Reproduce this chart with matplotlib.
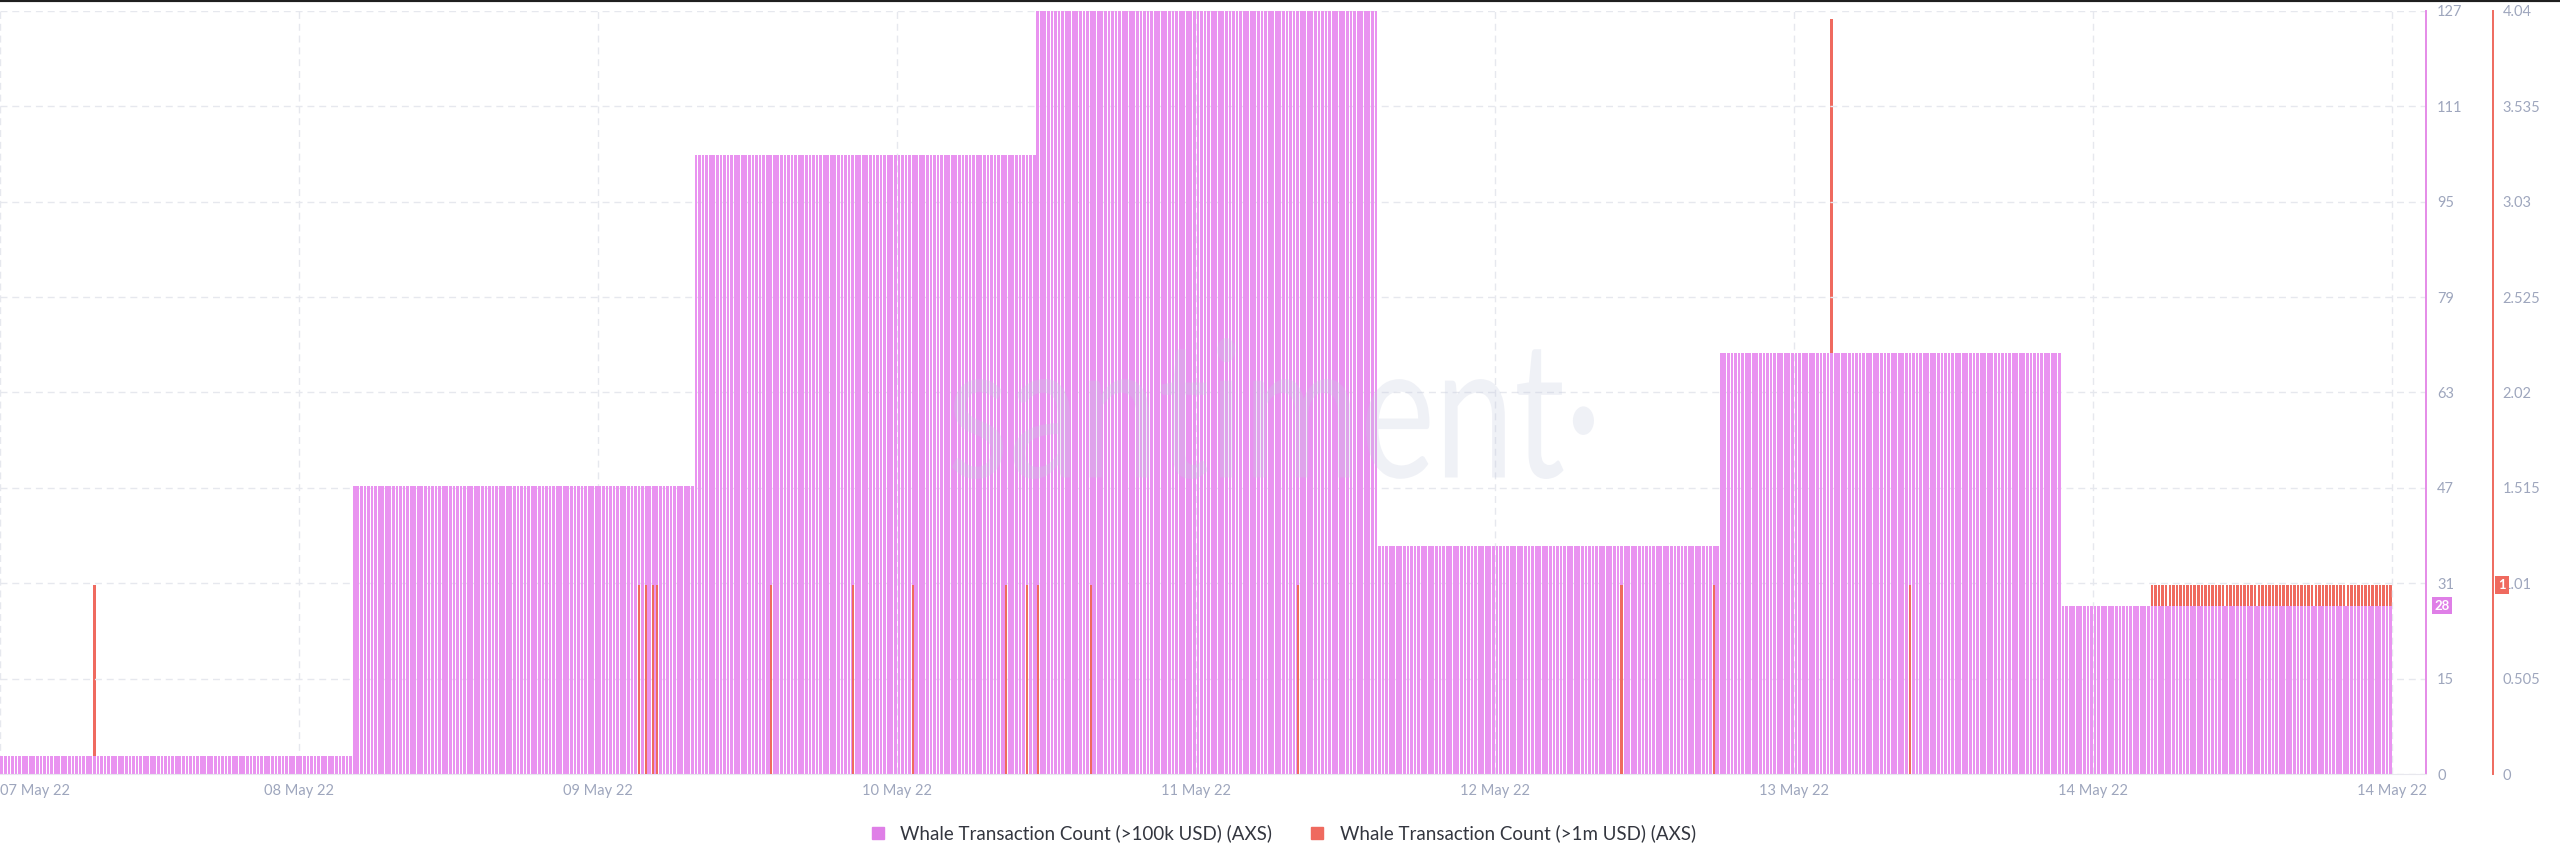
import numpy as np
import matplotlib.pyplot as plt
from matplotlib.lines import Line2D
from matplotlib.textpath import TextPath
from matplotlib.patches import PathPatch
from matplotlib.font_manager import FontProperties
from matplotlib import transforms

plt.rcParams['font.family'] = ['Lato', 'DejaVu Sans']

# 15 minute slots from 07 May 22 to the end of 14 May 22
n_slots = 672

# whale tx count >100k USD, one value per (shifted) day
day_edges = [0, 99, 195, 291, 387, 483, 579, 672]
day_counts = [3, 48, 103, 127, 38, 70, 28]

# whale tx count >1m USD, only the non-zero slots
spike_slots = [26, 179, 181, 183, 184, 216, 239, 256, 282, 288, 291, 306, 364, 455, 481, 514, 536]
spike_counts = [1, 1, 1, 1, 1, 1, 1, 1, 1, 1, 1, 1, 1, 1, 1, 4, 1]
block_start, block_end = 604, 672
block_count = 1
# spikes that are hidden behind the pink bars in the original
hidden_spikes = [26, 514]

tick_labels = ['07 May 22', '08 May 22', '09 May 22', '10 May 22', '11 May 22',
               '12 May 22', '13 May 22', '14 May 22', '14 May 22']
pink_ticks = ['0', '15', '31', '47', '63', '79', '95', '111', '127']
red_ticks = ['0', '0.505', '1.01', '1.515', '2.02', '2.525', '3.03', '3.535', '4.04']

PINK = '#e993f0'
PINK_DARK = '#df7fe7'
RED = '#ef6a5f'
GREY = '#9ea6bd'
GRID = '#e6e8ee'

slots = np.arange(n_slots)
pink = np.zeros(n_slots)
for a, b, v in zip(day_edges[:-1], day_edges[1:], day_counts):
    pink[a:b] = v

red_back = np.zeros(n_slots)
red_front = np.zeros(n_slots)
red_back[block_start:block_end] = block_count
for s, v in zip(spike_slots, spike_counts):
    if s in hidden_spikes:
        red_back[s] = v
    else:
        red_front[s] = v

fig = plt.figure(figsize=(25.6, 8.63), dpi=100)
ax = fig.add_axes([0.0, 0.1031, 0.9477, 0.8842])
ax_back = ax.twinx()
ax_front = ax.twinx()
ax_back.set_zorder(0)
ax.set_zorder(1)
ax_front.set_zorder(2)
ax.patch.set_visible(False)
ax_front.patch.set_visible(False)

ax_back.bar(slots, red_back, width=0.7, color=RED, linewidth=0, zorder=2)
ax.bar(slots, pink, width=0.78, color=PINK, linewidth=0, zorder=2)
ax_front.bar(slots, red_front, width=0.6, color=RED, linewidth=0, zorder=2)

# watermark, faint over everything
tp = TextPath((0, 0), 'santiment\u00b7', size=100,
              prop=FontProperties(family=['Lato', 'DejaVu Sans'], weight='normal'))
bb = tp.get_extents()
sx = 642 / bb.width
sy = 141 / bb.height
tr = transforms.Affine2D().translate(-bb.x0, -bb.y0).scale(sx, sy).translate(952, 384)
wm = PathPatch(tp, transform=tr + transforms.IdentityTransform(),
               color='#c6cce0', alpha=0.27, lw=0, zorder=5, clip_on=False)
ax_front.add_artist(wm)

xticks = np.linspace(-0.5, 671.5, 9)
ax.set_xlim(-0.5, 681)
ax.set_ylim(0, 127)
ax_back.set_ylim(0, 4.04)
ax_front.set_ylim(0, 4.04)

ax.set_xticks(xticks)
ax.set_xticklabels(tick_labels)
ax.get_xticklabels()[0].set_ha('left')
ax.tick_params(axis='x', length=0, pad=7, labelsize=10.5, labelcolor=GREY)

ax.yaxis.tick_right()
ax.set_yticks(np.linspace(0, 127, 9))
ax.set_yticklabels(pink_ticks)
ax.tick_params(axis='y', length=0, pad=8, labelsize=10.5, labelcolor=GREY)

ax_back.set_yticks(np.linspace(0, 4.04, 9))
ax_back.set_yticklabels(red_ticks)
ax_back.tick_params(axis='y', length=0, pad=7, labelsize=10.5, labelcolor=GREY)
ax_back.spines['right'].set_position(('outward', 48))
ax_back.spines['right'].set_color(RED)
ax_back.spines['right'].set_linewidth(1.4)
for side in ['top', 'left', 'bottom']:
    ax_back.spines[side].set_visible(False)

for s in ax_front.spines.values():
    s.set_visible(False)
ax_front.set_yticks([])

ax.grid(True, color=GRID, linestyle=(0, (5, 3.5)), linewidth=1)
ax.set_axisbelow(True)
for side in ['top', 'left']:
    ax.spines[side].set_visible(False)
ax.spines['bottom'].set_color('#e8e8ee')
ax.spines['right'].set_color('#e58be8')
ax.spines['right'].set_linewidth(1.4)

# value badges on the right axes
ax.annotate('28', xy=(1, 28), xycoords=('axes fraction', 'data'),
            xytext=(6, 0), textcoords='offset points', va='center', ha='left',
            fontsize=9.5, color='white', fontweight='bold', zorder=10,
            bbox=dict(boxstyle='square,pad=0.2', fc=PINK_DARK, ec='none'))
ax_back.annotate('1', xy=(1, 1), xycoords=('axes fraction', 'data'),
                 xytext=(52, 0), textcoords='offset points', va='center', ha='left',
                 fontsize=9.5, color='white', fontweight='bold', zorder=10,
                 bbox=dict(boxstyle='square,pad=0.25', fc=RED, ec='none'))

handles = [
    Line2D([], [], marker='s', linestyle='none', markersize=9, color=PINK_DARK),
    Line2D([], [], marker='s', linestyle='none', markersize=9, color=RED),
]
fig.legend(handles, ['Whale Transaction Count (>100k USD) (AXS)',
                     'Whale Transaction Count (>1m USD) (AXS)'],
           loc='center', bbox_to_anchor=(0.499, 0.034), ncol=2, frameon=False,
           handletextpad=0.2, columnspacing=1.4, fontsize=13.5,
           labelcolor='#33363f')

# dark border at the very top of the screenshot
fig.add_artist(Line2D([0, 1], [1, 1], transform=fig.transFigure, color='#1f1f1f', lw=3))

fig.savefig('out.png', dpi=100)
